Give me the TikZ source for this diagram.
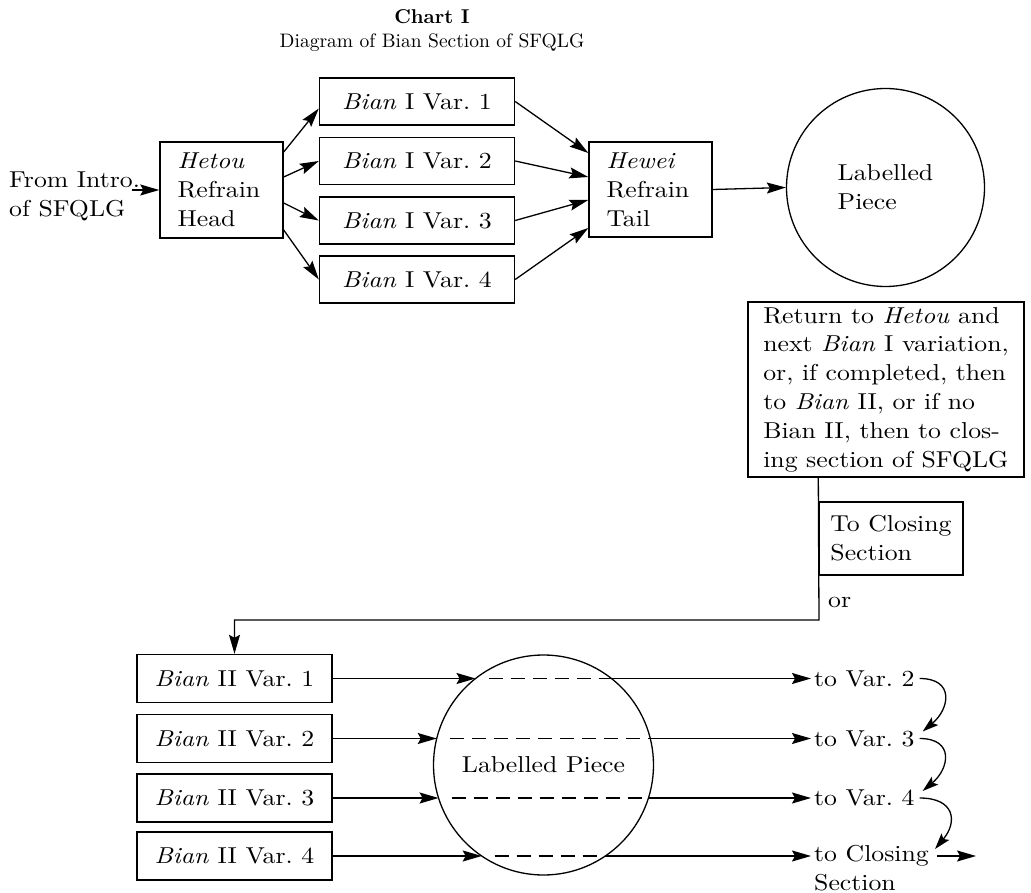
\documentclass[tikz,border=0pt]{standalone}
\usepackage{fontspec}
\setmainfont{lmroman10}[Extension=.otf,UprightFont=*-regular,BoldFont=*-bold,ItalicFont=*-italic,BoldItalicFont=*-bolditalic,FakeStretch=1.12]
\newfontfamily\titlefam{lmroman10}[Extension=.otf,UprightFont=*-regular,BoldFont=*-bold]
\usetikzlibrary{arrows.meta,calc}
\newcommand{\bodyfont}{\fontsize{23}{28.8}\selectfont}
\begin{document}
\begin{tikzpicture}[x=1pt,y=1pt,
  font=\bodyfont,
  every node/.style={inner sep=0pt},
  box/.style={draw,line width=1.4pt,inner sep=0pt},
  rnd/.style={draw,circle,line width=1.3pt,inner sep=0pt},
  ln/.style={line width=1.3pt},
  arr/.style={line width=1.3pt,-{Stealth[length=19pt,width=11pt,inset=3pt]}},
  arrc/.style={line width=1.3pt,-{Stealth[length=16pt,width=10pt,inset=3pt]}},
  dsh/.style={line width=1.3pt,dash pattern=on 14pt off 8pt}]
\useasboundingbox (0,0) rectangle (1031,-893);

% title
\node[font=\titlefam\fontsize{20}{22}\selectfont\bfseries] (title) at (432,-17) {Chart I};
\node[font=\titlefam\fontsize{19.5}{24}\selectfont] (sub) at (432,-43) {Diagram of Bian Section of SFQLG};

% top part
\node[align=left,anchor=west] (intro) at (9,-196) {From Intro.\\of SFQLG};
\node[box,minimum width=123,minimum height=96,text width=88,align=left] (hetou) at (221.5,-190) {\textit{Hetou}\\Refrain\\Head};
\foreach \i/\y in {1/101.5,2/161,3/220.5,4/279.5}
  \node[box,minimum width=195,minimum height=47] (b1\i) at (417,-\y) {\textit{Bian} I Var.~\i};
\node[box,minimum width=123,minimum height=95,text width=88,align=left] (hewei) at (650.5,-189.5) {\textit{Hewei}\\Refrain\\Tail};
\node[rnd,minimum size=198,align=left] (c1) at (885.5,-187.5) {Labelled\\Piece};

\coordinate (ia) at ($(intro.east |- hetou.west)+(-8,0)$);
\draw[arr] (ia) -- (hetou.west);
\draw[arr] ([yshift=38pt]hetou.east) -- ([yshift=-7pt]b11.west);
\draw[arr] ([yshift=13pt]hetou.east) -- (b12.west);
\draw[arr] ([yshift=-13pt]hetou.east) -- (b13.west);
\draw[arr] ([yshift=-40pt]hetou.east) -- (b14.west);
\draw[arr] (b11.east) -- ([yshift=36.5pt]hewei.west);
\draw[arr] (b12.east) -- ([yshift=12.5pt]hewei.west);
\draw[arr] (b13.east) -- ([yshift=-10.5pt]hewei.west);
\draw[arr] (b14.east) -- ([yshift=-38.5pt]hewei.west);
\draw[arr] (hewei.east) -- (c1.west);

% return box
\node[box,minimum width=276,minimum height=175,align=left] (ret) at (886,-389.5)
  {Return to \textit{Hetou} and\\next \textit{Bian} I variation,\\or, if completed, then\\to \textit{Bian} II, or if no\\Bian II, then to clos-\\ing section of SFQLG};
\node[box,minimum width=144,minimum height=73,align=left] (tcs) at (891,-538.5) {To Closing\\Section};
\node[anchor=west] (or) at (828,-602) {or};
\coordinate (turn) at (819,-620);

% bottom part
\foreach \i/\y in {1/678.5,2/738.5,3/798,4/856}
  \node[box,minimum width=195,minimum height=48] (b2\i) at (234.5,-\y) {\textit{Bian} II Var.~\i};
\draw[arr] (ret.south -| tcs.west) -- (turn) -| (b21.north);

\node[rnd,minimum size=220] (c2) at (543.5,-765) {Labelled Piece};
\coordinate (L1) at ($(c2.center)+(-67.96,86.5)$);
\coordinate (R1) at ($(c2.center)+(67.96,86.5)$);
\coordinate (L2) at ($(c2.center)+(-106.76,26.5)$);
\coordinate (R2) at ($(c2.center)+(106.76,26.5)$);
\coordinate (L3) at ($(c2.center)+(-104.93,-33)$);
\coordinate (R3) at ($(c2.center)+(104.93,-33)$);
\coordinate (L4) at ($(c2.center)+(-61.8,-91)$);
\coordinate (R4) at ($(c2.center)+(61.8,-91)$);

\node[anchor=west] (t2) at (814,-678.5) {to Var.~2};
\node[anchor=west] (t3) at (814,-738.5) {to Var.~3};
\node[anchor=west] (t4) at (814,-798) {to Var.~4};
\node[anchor=west] (tcl) at (814,-856) {to Closing};
\node[anchor=base west] (sec) at ($(tcl.base west)+(0,-28.8)$) {Section};

\foreach \i/\t in {1/t2,2/t3,3/t4,4/tcl}{
  \draw[arr] (b2\i.east) -- (L\i);
  \draw[dsh] ([xshift=13pt]L\i) -- (R\i);
  \draw[arr] (R\i) -- ([xshift=-3pt]\t.west);
}

\draw[arrc] ([xshift=5pt]t2.east) to[out=0,in=40,looseness=1.7] ([shift={(8pt,7pt)}]t3.east);
\draw[arrc] ([xshift=5pt]t3.east) to[out=0,in=40,looseness=1.7] ([shift={(8pt,7pt)}]t4.east);
\draw[arrc] ([xshift=5pt]t4.east) to[out=0,in=50,looseness=1.7] ([shift={(6pt,7pt)}]tcl.east);
\coordinate (fin) at ($(tcl.east)+(47,0)$);
\draw[arr] ([xshift=8pt]tcl.east) -- (fin);
\end{tikzpicture}
\end{document}
